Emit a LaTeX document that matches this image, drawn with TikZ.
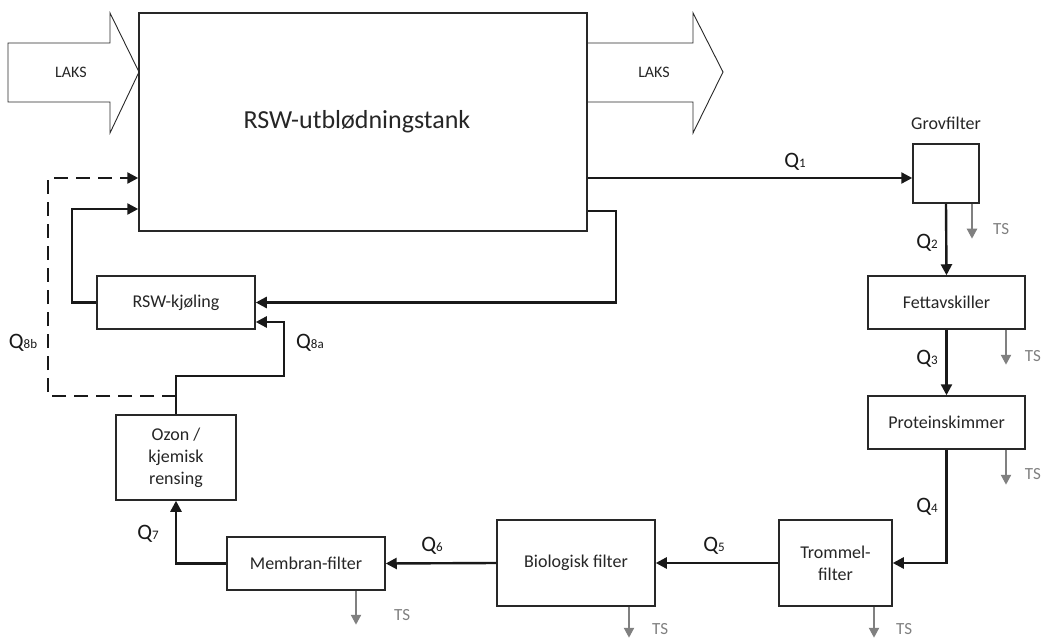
\documentclass[tikz,border=0pt]{standalone}
\usepackage{fontspec}
\setmainfont{Carlito}
\usetikzlibrary{arrows.meta}
\definecolor{tsgray}{RGB}{128,128,128}
\definecolor{linegray}{RGB}{40,40,40}
\newcommand{\qlab}[1]{{\fontsize{22}{24}\selectfont Q}{\fontsize{13}{15}\selectfont #1}}
\tikzset{
  box/.style={draw=linegray, line width=1.5pt, inner sep=0pt, align=center,
    font=\fontsize{18}{22}\selectfont, text=black!85},
  flow/.style={draw=black!90, line width=2.4pt, -{Triangle[length=11pt,width=11pt]}},
  dashflow/.style={draw=black!90, line width=2.4pt, dash pattern=on 14pt off 8pt, -{Triangle[length=11pt,width=11pt]}},
  tsflow/.style={draw=tsgray, line width=2.2pt, -{Triangle[length=10pt,width=10pt]}},
  tslab/.style={text=tsgray, font=\fontsize{17}{20}\selectfont, anchor=west, inner sep=0pt},
  qlabel/.style={inner sep=0pt, text=black!90},
  bigarrow/.style={draw=linegray, line width=0.9pt, fill=white},
  lakslab/.style={font=\fontsize{16}{19}\selectfont, text=black!85, inner sep=0pt}
}
\begin{document}
\begin{tikzpicture}[x=1pt,y=-1pt]
\useasboundingbox (0,0) rectangle (1042,639);
\fill[white] (0,0) rectangle (1042,639);
% LAKS arrows
\draw[bigarrow] (8,43) -- (110,43) -- (110,13) -- (139,72) -- (110,133) -- (110,102) -- (8,102) -- cycle;
\draw[bigarrow] (587,43) -- (693,43) -- (693,13) -- (723,72) -- (693,133) -- (693,102) -- (587,102) -- cycle;
\node[lakslab] (laks1) at (71,72) {LAKS};
\node[lakslab] (laks2) at (654,72) {LAKS};
% tank
\node[box, minimum width=448pt, minimum height=218pt] (tank) at (363,122) {};
\node[font=\fontsize{26}{30}\selectfont, text=black!85, inner sep=0pt] (title) at (357,122) {RSW-utblødningstank};
% boxes
\node[box, minimum width=66pt, minimum height=59pt] (grov) at (946,173.5) {};
\node[font=\fontsize{18}{22}\selectfont, text=black!85, inner sep=0pt] (grovlab) at (946,123) {Grovfilter};
\node[box, minimum width=157pt, minimum height=53pt] (fett) at (946.5,302.5) {Fettavskiller};
\node[box, minimum width=157pt, minimum height=53pt] (prot) at (946.5,422.5) {Proteinskimmer};
\node[box, minimum width=113pt, minimum height=86pt] (trom) at (835.5,563) {Trommel-\\filter};
\node[box, minimum width=158pt, minimum height=86pt] (bio) at (576,563) {Biologisk filter};
\node[box, minimum width=158pt, minimum height=53pt] (mem) at (306,563.5) {Membran-filter};
\node[box, minimum width=120pt, minimum height=85pt] (ozon) at (176,457.5) {Ozon /\\kjemisk\\rensing};
\node[box, minimum width=158pt, minimum height=53pt] (kjol) at (176,302.5) {RSW-kjøling};
% coordinates
\coordinate (q1e) at ([yshift=-4.5pt]grov.west);
\coordinate (t2) at (616,211);
\coordinate (q8a) at ([yshift=-19.5pt]kjol.east);
\coordinate (j) at (176,376);
\coordinate (k) at (284,376);
\coordinate (d0) at (176,396);
\coordinate (dA) at (48,396);
\coordinate (dB) at (48,178);
\coordinate (sA) at (72,302.5);
\coordinate (sB) at (72,209);
% main flows
\draw[flow] (q1e -| tank.east) -- (q1e);
\draw[flow] (grov.south) -- (fett.north);
\draw[flow] (fett.south) -- (prot.north);
\draw[flow] (prot.south) |- (trom.east);
\draw[flow] (trom.west) -- (bio.east);
\draw[flow] (bio.west) -- (mem.east);
\draw[flow] (mem.west) -| (ozon.south);
\draw[flow] (ozon.north) -- (j) -- (k) -- (k |- q8a) -- (q8a);
\draw[dashflow] (d0) -- (dA) -- (dB) -- (dB -| tank.west);
\draw[flow] (kjol.west) -- (sA) -- (sB) -- (sB -| tank.west);
\draw[flow] (t2 -| tank.east) -- (t2) |- (kjol.east);
% TS outflows
\draw[tsflow] ([xshift=26pt]grov.south) -- ++(0,35);
\draw[tsflow] ([xshift=59.5pt]fett.south) -- ++(0,35);
\draw[tsflow] ([xshift=59.5pt]prot.south) -- ++(0,35);
\draw[tsflow] ([xshift=38.5pt]trom.south) -- ++(0,31);
\draw[tsflow] ([xshift=53pt]bio.south) -- ++(0,31);
\draw[tsflow] ([xshift=50pt]mem.south) -- ++(0,34);
\node[tslab] (ts1) at (993,229) {TS};
\node[tslab, anchor=east] (ts2) at (1041,356) {TS};
\node[tslab, anchor=east] (ts3) at (1041,474) {TS};
\node[tslab] (ts4) at (896,629) {TS};
\node[tslab] (ts5) at (652,629) {TS};
\node[tslab] (ts6) at (394,615) {TS};
% Q labels
\node[qlabel] (lq1) at (795,162) {\qlab{1}};
\node[qlabel] (lq2) at (927,243) {\qlab{2}};
\node[qlabel] (lq3) at (927,359) {\qlab{3}};
\node[qlabel] (lq4) at (927,507) {\qlab{4}};
\node[qlabel] (lq5) at (714,546) {\qlab{5}};
\node[qlabel] (lq6) at (432,546) {\qlab{6}};
\node[qlabel] (lq7) at (148,534) {\qlab{7}};
\node[qlabel] (lq8a) at (310,343) {\qlab{8a}};
\node[qlabel] (lq8b) at (23,343) {\qlab{8b}};
\end{tikzpicture}
\end{document}
